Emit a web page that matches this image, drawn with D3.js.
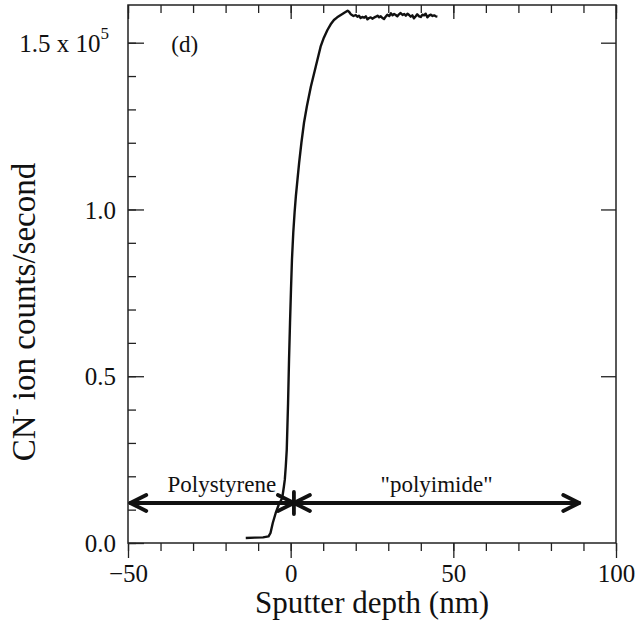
<!DOCTYPE html>
<html>
<head>
<meta charset="utf-8">
<script src="https://cdn.jsdelivr.net/npm/d3@7"></script>
<style>
  body { margin: 0; background: #fff; }
  text { font-family: "Liberation Serif", "Times New Roman", serif; fill: #111; }
</style>
</head>
<body>
<svg id="chart" width="635" height="623"></svg>
<script>
// sputter depth (nm) and CN- counts (x 1e5 counts/s)
var depth = [-13.8, -11, -8.5, -6.8, -6.2, -5.5, -4.6, -3.7, -2.6, -2.1, -1.8, -1.5, -1.2, -0.8, -0.5, -0.2,
    0.1, 0.4, 0.8, 1.2, 1.6, 2.1, 2.6, 3.3, 4.1, 5.0, 6.2, 7.7, 9.2, 10.2, 11.3, 12.3, 13.3, 14.3, 15.4, 16.5,
    17.5, 18.0, 18.5, 19.3, 20.0, 20.5, 21.0, 21.5, 22.0, 22.6, 23.1, 23.6, 24.1, 24.6, 25.1, 25.6, 26.2,
    26.7, 27.2, 27.7, 28.2, 28.7, 29.2, 29.7, 30.3, 30.8, 31.3, 31.8, 32.3, 32.8, 33.3, 33.8, 34.4, 34.9,
    35.4, 35.9, 36.4, 36.9, 37.4, 37.9, 38.5, 38.9, 39.5, 40.0, 40.5, 41.0, 41.5, 42.0, 42.5, 43.1, 43.6,
    44.1, 44.6, 45.1]
var counts = [0.015, 0.016, 0.017, 0.020, 0.03, 0.06, 0.09, 0.114, 0.135, 0.168, 0.19, 0.23, 0.28, 0.42, 0.55, 0.66,
    0.76, 0.85, 0.93, 0.99, 1.04, 1.09, 1.14, 1.20, 1.26, 1.31, 1.368, 1.428, 1.488, 1.515, 1.538, 1.555, 1.568, 1.576, 1.583, 1.590,
    1.596, 1.592, 1.585, 1.580, 1.583, 1.578, 1.581, 1.574, 1.577, 1.575, 1.579, 1.570, 1.574, 1.576, 1.572, 1.575, 1.578,
    1.581, 1.576, 1.579, 1.574, 1.571, 1.578, 1.584, 1.580, 1.588, 1.582, 1.586, 1.583, 1.579, 1.585, 1.589, 1.583, 1.586,
    1.581, 1.587, 1.583, 1.578, 1.582, 1.573, 1.580, 1.585, 1.579, 1.577, 1.584, 1.582, 1.587, 1.576, 1.581, 1.584, 1.580,
    1.582, 1.579, 1.578]

var xTicks = [-50, 0, 50, 100]
var xMinor = d3.range(-50, 101, 10)
var yTicks = [0, 0.5, 1.0, 1.5]
var yTickLabels = ["0.0", "0.5", "1.0", "1.5 x 10"]
var yMinor = d3.range(0, 16).map(d => d / 10)

// regions along the depth axis
var regionNames = ["Polystyrene", "\"polyimide\""]
var regionFrom = [-49.3, 1]
var regionTo = [1, 88.7]
var arrowLevel = 0.12

var svg = d3.select("#chart"),
    margin = { top: 5, left: 128, bottom: 80, right: 19 },
    width = 635,
    height = 623

var x = d3.scaleLinear()
    .domain([-50, 100])
    .range([margin.left, width - margin.right])

var y = d3.scaleLinear()
    .domain([0, 1.613])
    .range([height - margin.bottom, margin.top])

var stroke = "#222"

// frame
svg.append("rect")
    .attr("x", x(-50)).attr("y", y(1.613))
    .attr("width", x(100) - x(-50)).attr("height", y(0) - y(1.613))
    .attr("fill", "none").attr("stroke", stroke).attr("stroke-width", 1.5)

function clean(g) {
    g.select(".domain").remove()
    g.selectAll("line").attr("stroke", stroke).attr("stroke-width", 1.3)
}

// bottom: ticks point outward
svg.append("g")
    .attr("transform", `translate(0,${y(0)})`)
    .call(d3.axisBottom(x).tickValues(xMinor).tickSize(8).tickFormat(""))
    .call(clean)
svg.append("g")
    .attr("transform", `translate(0,${y(0)})`)
    .call(d3.axisBottom(x).tickValues(xTicks).tickSize(15).tickPadding(6))
    .call(clean)
    .selectAll("text").attr("font-size", 25).attr("font-family", null)

// top: inward
svg.append("g")
    .attr("transform", `translate(0,${y(1.613)})`)
    .call(d3.axisTop(x).tickValues(xMinor).tickSize(-8).tickFormat(""))
    .call(clean)
svg.append("g")
    .attr("transform", `translate(0,${y(1.613)})`)
    .call(d3.axisTop(x).tickValues(xTicks).tickSize(-14).tickFormat(""))
    .call(clean)

// left: inward
svg.append("g")
    .attr("transform", `translate(${x(-50)},0)`)
    .call(d3.axisLeft(y).tickValues(yMinor).tickSize(-8).tickFormat(""))
    .call(clean)
var yl = svg.append("g")
    .attr("transform", `translate(${x(-50)},0)`)
    .call(d3.axisLeft(y).tickValues(yTicks).tickSize(-16).tickPadding(12)
        .tickFormat((d, i) => yTickLabels[i]))
    .call(clean)
yl.selectAll("text").attr("font-size", 25).attr("font-family", null).attr("dy", "0.35em")
yl.selectAll("text").filter((d, i) => i == 3)
    .attr("x", -19)
    .append("tspan").attr("font-size", 17).attr("dy", "-0.75em").text("5")

// right: major only
svg.append("g")
    .attr("transform", `translate(${x(100)},0)`)
    .call(d3.axisRight(y).tickValues(yTicks.slice(1)).tickSize(-15).tickFormat(""))
    .call(clean)

// profile
var line = d3.line()
    .x((d, i) => x(depth[i]))
    .y(d => y(d))

svg.append("path")
    .datum(counts)
    .attr("fill", "none")
    .attr("stroke", "#111")
    .attr("stroke-width", 2.4)
    .attr("stroke-linejoin", "round")
    .attr("d", line)

// region arrows
var ay = y(arrowLevel)
var arr = svg.append("g").attr("stroke", "#111").attr("fill", "none")
    .attr("stroke-width", 3.8).attr("stroke-linecap", "round").attr("stroke-linejoin", "round")

regionNames.forEach(function (name, i) {
    var x0 = x(regionFrom[i]), x1 = x(regionTo[i])
    arr.append("line").attr("x1", x0).attr("x2", x1).attr("y1", ay).attr("y2", ay)
    arr.append("path").attr("d", `M${x0 + 16},${ay - 8}L${x0},${ay}L${x0 + 16},${ay + 8}`)
    arr.append("path").attr("d", `M${x1 - 16},${ay - 8}L${x1},${ay}L${x1 - 16},${ay + 8}`)
    svg.append("text")
        .attr("x", x((regionFrom[i] + regionTo[i]) / 2 + (i == 0 ? 3 : 0)))
        .attr("y", ay - 11)
        .attr("text-anchor", "middle")
        .attr("font-size", 23)
        .text(name)
})
// vertical stroke at the interface
arr.append("line").attr("x1", x(1)).attr("x2", x(1)).attr("y1", ay - 11).attr("y2", ay + 11)

// panel letter
svg.append("text")
    .attr("x", x(-36.7)).attr("y", 52)
    .attr("font-size", 23)
    .text("(d)")

// axis titles
svg.append("text")
    .attr("x", x(25)).attr("y", 613)
    .attr("text-anchor", "middle")
    .attr("font-size", 31)
    .text("Sputter depth (nm)")

var yt = svg.append("text")
    .attr("transform", `translate(35,312) rotate(-90)`)
    .attr("text-anchor", "middle")
    .attr("font-size", 33)
yt.append("tspan").text("CN")
yt.append("tspan").attr("font-size", 21).attr("dy", "-0.6em").text("-")
yt.append("tspan").attr("dy", "0.39em").text(" ion counts/second")
</script>
</body>
</html>
